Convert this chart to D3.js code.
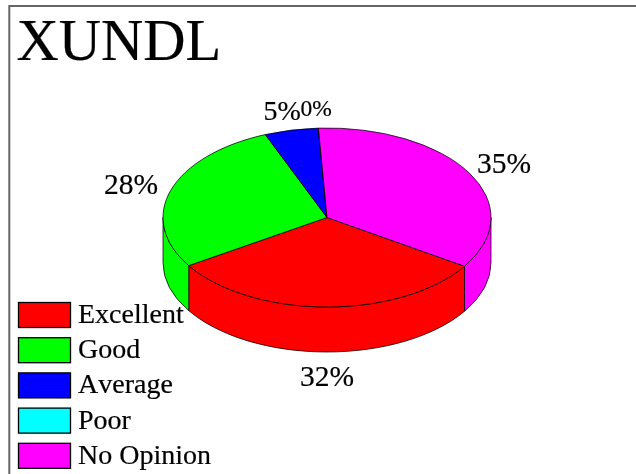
<!DOCTYPE html>
<html><head><meta charset="utf-8">
<script src="https://cdn.jsdelivr.net/npm/d3@7"></script>
<style>html,body{margin:0;padding:0;background:#fff}svg{display:block;filter:blur(.4px)}text{font-family:"Liberation Serif",serif;fill:#000;stroke:#000;stroke-width:.2px;font-kerning:none}</style>
</head><body><svg id="c" width="636" height="474"></svg>
<script>
const categories=["Excellent","Good","Average","Poor","No Opinion"];
const values=[31.8,27.9,5.3,0,35];
const colors=["#ff0000","#00ff00","#0000ff","#00ffff","#ff00ff"];
const percentLabels=["32%","28%","5%","0%","35%"];
const title="XUNDL";
const W=636,H=474,cx=327,cy=217.5,rx=164,ry=89.5,depth=45,start=123*Math.PI/180;
const svg=d3.select("#c");
svg.append("path").attr("d",`M${W} 6H9.3V${H}`).attr("fill","none").attr("stroke","#666").attr("stroke-width",2);
svg.append("text").attr("x",16.5).attr("y",59.5).attr("font-size",58.5).text(title);
const pie=d3.pie().sort(null).startAngle(start).endAngle(start+2*Math.PI);
const arcs=pie(values);
const px=a=>cx+rx*Math.sin(a), py=a=>cy-ry*Math.cos(a);
const g=svg.append("g");
const lo=Math.PI/2,hi=3*Math.PI/2,edge=.75;
arcs.forEach((d,i)=>{
  [[d.startAngle,d.endAngle],[d.startAngle-2*Math.PI,d.endAngle-2*Math.PI]].forEach(([s,e])=>{
    const a=Math.max(s,lo),b=Math.min(e,hi);
    if(b<=a)return;
    const large=(b-a)>Math.PI?1:0;
    const dstr=`M${px(a)} ${py(a)}A${rx} ${ry} 0 ${large} 1 ${px(b)} ${py(b)}L${px(b)} ${py(b)+depth}A${rx} ${ry} 0 ${large} 0 ${px(a)} ${py(a)+depth}Z`;
    g.append("path").attr("d",dstr).attr("fill",colors[i]).attr("stroke","#000").attr("stroke-width",edge).attr("stroke-linejoin","round");
  });
});
const arcGen=d3.arc().innerRadius(0).outerRadius(rx);
g.selectAll("path.top").data(arcs).join("path").attr("class","top")
 .attr("d",arcGen).attr("transform",`translate(${cx},${cy}) scale(1,${ry/rx})`)
 .attr("fill",(d,i)=>colors[i]).attr("stroke","#000").attr("stroke-width",edge).attr("vector-effect","non-scaling-stroke").attr("stroke-linejoin","round");
const labelFontSize=[29.5,29.5,28,23.5,29.5];
const labelNudge=[1,1,0,0,-2];
arcs.forEach((d,i)=>{
  const m=(d.startAngle+d.endAngle)/2;
  const front=Math.cos(m)<0;
  const lx=cx+rx*1.26*Math.sin(m)+labelNudge[i];
  const ly=cy-ry*1.22*Math.cos(m)+(front?depth+4:0);
  svg.append("text").attr("text-anchor","middle").attr("dominant-baseline","central")
    .attr("x",lx).attr("y",ly).attr("font-size",labelFontSize[i]).text(percentLabels[i]);
});
const rowY=d3.scaleBand().domain(categories).range([300,476]);
const lg=svg.append("g").selectAll("g").data(categories).join("g");
lg.append("rect").attr("x",18.5).attr("y",d=>rowY(d)+2.5).attr("width",52).attr("height",25).attr("fill",(d,i)=>colors[i]).attr("stroke","#000").attr("stroke-width",1.3);
lg.append("text").attr("x",78).attr("y",d=>rowY(d)+23).attr("font-size",28).text(d=>d);
</script></body></html>
